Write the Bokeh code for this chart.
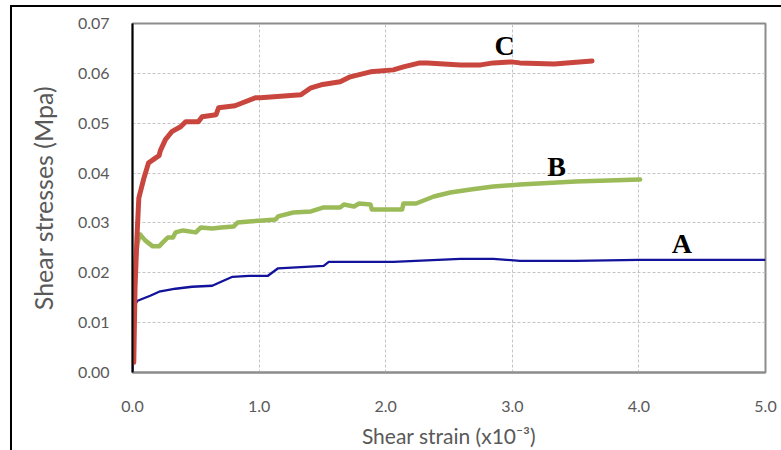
from bokeh.plotting import figure
from bokeh.models import Range1d, SingleIntervalTicker, NumeralTickFormatter, Label
from bokeh.embed import file_html
from bokeh.resources import INLINE

# Curve C (red)
strain_C = [0.01, 0.02, 0.035, 0.05, 0.087, 0.126, 0.18, 0.21, 0.22, 0.26, 0.31, 0.38, 0.42,
            0.52, 0.55, 0.66, 0.68, 0.81, 0.87, 0.97, 1.01, 1.33, 1.41, 1.49, 1.64, 1.72,
            1.88, 2.06, 2.14, 2.27, 2.33, 2.59, 2.75, 2.85, 2.99, 3.06, 3.33, 3.63]
stress_C = [0.002, 0.017, 0.027, 0.035, 0.0387, 0.042, 0.043, 0.0435, 0.0445, 0.0467, 0.0483,
            0.0493, 0.0503, 0.0503, 0.0513, 0.0517, 0.0531, 0.0535, 0.0541, 0.0551, 0.0551,
            0.0557, 0.0571, 0.0577, 0.0583, 0.0593, 0.0603, 0.0607, 0.0613, 0.0621, 0.0621,
            0.0617, 0.0617, 0.0621, 0.0623, 0.0621, 0.0619, 0.0625]

# Curve B (green)
strain_B = [0.0, 0.005, 0.02, 0.04, 0.06, 0.1, 0.16, 0.21, 0.24, 0.28, 0.32, 0.34, 0.40, 0.50,
            0.54, 0.63, 0.70, 0.80, 0.83, 0.92, 1.03, 1.13, 1.15, 1.27, 1.41, 1.51, 1.64, 1.67,
            1.75, 1.79, 1.88, 1.89, 2.13, 2.14, 2.24, 2.38, 2.51, 2.67, 2.85, 3.06, 3.5, 4.01]
stress_B = [0.010, 0.018, 0.022, 0.026, 0.0277, 0.0265, 0.0253, 0.0253, 0.0261, 0.0271, 0.0271,
            0.0281, 0.0285, 0.0281, 0.0291, 0.0289, 0.0291, 0.0293, 0.0301, 0.0303, 0.0305,
            0.0307, 0.0313, 0.0321, 0.0323, 0.0331, 0.0331, 0.0337, 0.0333, 0.0339, 0.0337,
            0.0327, 0.0327, 0.0339, 0.0339, 0.0353, 0.0361, 0.0367, 0.0373, 0.0377, 0.0383,
            0.0387]

# Curve A (blue)
strain_A = [0.0, 0.0, 0.04, 0.08, 0.14, 0.21, 0.34, 0.47, 0.63, 0.70, 0.79, 0.92, 1.07, 1.15,
            1.51, 1.55, 2.06, 2.59, 2.85, 3.06, 3.5, 4.0, 5.0]
stress_A = [0.0, 0.0128, 0.0144, 0.0148, 0.0154, 0.0162, 0.0168, 0.0172, 0.0174, 0.0182,
            0.0192, 0.0194, 0.0194, 0.0209, 0.0214, 0.0222, 0.0222, 0.0228, 0.0228, 0.0224,
            0.0224, 0.0226, 0.0226]

curve_names = ["A", "B", "C"]
x_title = "Shear strain (x10\u207b\u00b3)"
y_title = "Shear stresses (Mpa)"

GREY_TXT = "#595959"
FONT = "Lato"

p = figure(width=781, height=450, output_backend="svg", toolbar_location=None,
           x_range=Range1d(0, 5), y_range=Range1d(0, 0.07),
           min_border_left=132, min_border_right=16, min_border_top=23, min_border_bottom=76)

p.background_fill_color = "white"
p.border_fill_color = "white"
p.border_fill_alpha = 0
p.outline_line_color = "#8c8c8c"
p.outline_line_width = 2

p.xaxis.ticker = SingleIntervalTicker(interval=1.0)
p.yaxis.ticker = SingleIntervalTicker(interval=0.01)
p.xaxis.formatter = NumeralTickFormatter(format="0.0")
p.yaxis.formatter = NumeralTickFormatter(format="0.00")

for ax in (p.xaxis[0], p.yaxis[0]):
    ax.major_tick_line_color = None
    ax.minor_tick_line_color = None
    ax.major_label_text_font = FONT
    ax.major_label_text_font_size = "16px"
    ax.major_label_text_color = GREY_TXT
    ax.axis_label_text_font = FONT
    ax.axis_label_text_font_style = "normal"
    ax.axis_label_text_color = GREY_TXT

p.xaxis.axis_label = x_title
p.yaxis.axis_label = y_title
p.xaxis.axis_label_text_font_size = "21px"
p.yaxis.axis_label_text_font_size = "25px"
p.xaxis.major_label_standoff = 22
p.yaxis.major_label_standoff = 17
p.xaxis.axis_label_standoff = 8
p.yaxis.axis_label_standoff = 17
p.xaxis.axis_line_color = "#8c8c8c"
p.xaxis.axis_line_width = 2
p.yaxis.axis_line_color = "black"
p.yaxis.axis_line_width = 2

p.xgrid.grid_line_color = "#c4c4c4"
p.ygrid.grid_line_color = "#c4c4c4"
p.xgrid.grid_line_dash = "3 2"
p.ygrid.grid_line_dash = "3 2"

p.line(strain_A, stress_A, line_color="#12129a", line_width=2.3, line_join="round")
p.line(strain_B, stress_B, line_color="#9bbb59", line_width=4.5, line_join="round", line_cap="round")
p.line(strain_C, stress_C, line_color="#c9463f", line_width=5, line_join="round", line_cap="round")

label_pos = {"C": (2.94, 0.0656), "B": (3.35, 0.0413), "A": (4.34, 0.0259)}
for name in curve_names:
    lx, ly = label_pos[name]
    p.add_layout(Label(x=lx, y=ly, text=name, text_font="Liberation Serif",
                       text_font_style="bold", text_font_size="28px", text_color="black",
                       text_align="center", text_baseline="middle"))

p.styles = {
    "background-color": "white",
    "background-image": "linear-gradient(#000,#000), linear-gradient(#000,#000)",
    "background-size": "100% 2px, 2px 100%",
    "background-position": "10px 5px, 10px 5px",
    "background-repeat": "no-repeat",
}

open("out.html", "w").write(file_html(p, INLINE))
